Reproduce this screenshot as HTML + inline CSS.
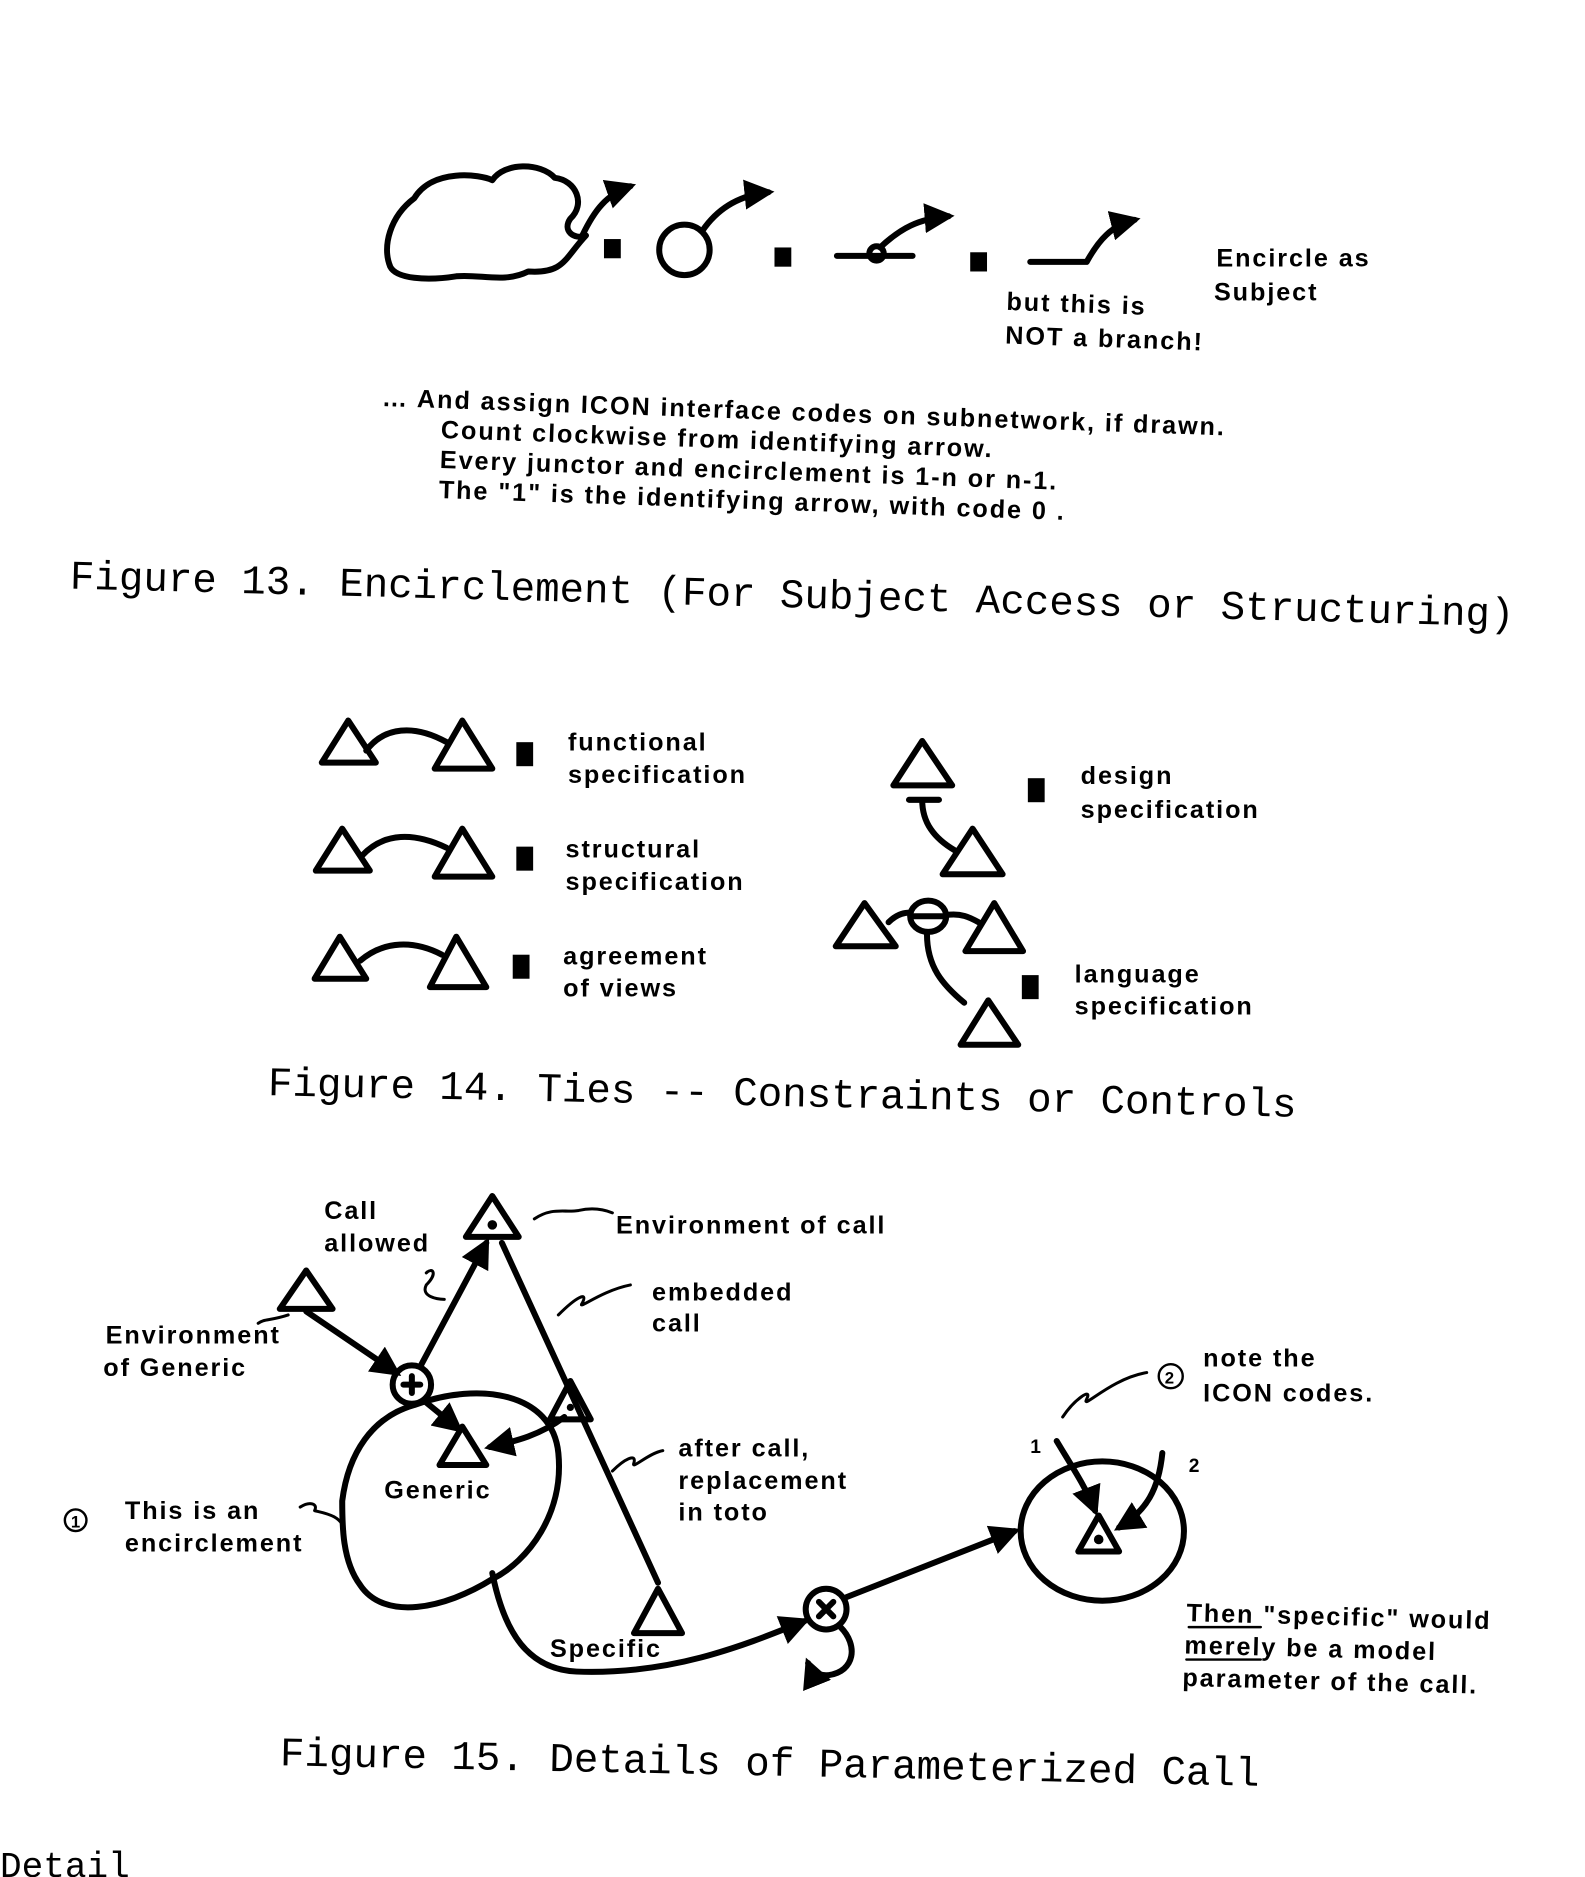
<!DOCTYPE html>
<html><head><meta charset="utf-8"><style>
html,body{margin:0;padding:0;background:#fff;}
svg{display:block}
.t{font-family:"Liberation Sans",sans-serif;font-weight:bold;font-size:21px;fill:#000;letter-spacing:1.6px}
.c{font-family:"Liberation Mono","Liberation Serif",serif;font-size:34px;fill:#000}
</style></head><body>
<svg width="1585" height="1877" viewBox="0 0 1320 1563" xmlns="http://www.w3.org/2000/svg">
<defs><marker id="a" viewBox="0 0 10 10" refX="8" refY="5" markerWidth="5" markerHeight="5" orient="auto"><path d="M0,0 L10,5 L0,10z" fill="#000"/></marker></defs>
<g fill="none" stroke="#000" stroke-width="5" stroke-linecap="round" stroke-linejoin="round">
<!-- Fig 13 -->
<path d="M345,165 C360,140 400,145 410,150 C420,135 450,135 462,148 C480,150 488,170 475,182 C468,192 478,200 488,196 C470,215 470,228 440,226 C420,236 400,228 380,230 C355,234 330,232 325,222 C318,205 325,180 345,165Z"/>
<path d="M485,196 C495,175 505,162 525,155" marker-end="url(#a)"/>
<circle cx="570" cy="208" r="21"/>
<path d="M585,192 C600,170 620,162 640,160" marker-end="url(#a)"/>
<path d="M697,213 L760,213"/><circle cx="730" cy="211" r="6"/>
<path d="M733,206 C750,190 765,182 790,180" marker-end="url(#a)"/>
<path d="M858,218 L905,218 C915,200 925,188 945,183" marker-end="url(#a)"/>
<!-- Fig 14 left -->
<polygon points="290,600 268,635 313,635"/><polygon points="385,600 362,640 410,640"/>
<path d="M305,625 C320,605 345,603 372,618"/>
<polygon points="285,690 263,725 308,725"/><polygon points="385,690 362,730 410,730"/>
<path d="M302,712 C320,693 345,693 372,706"/>
<polygon points="283,780 262,815 305,815"/><polygon points="380,780 358,822 405,822"/>
<path d="M300,800 C320,783 345,783 368,795"/>
<!-- Fig 14 right -->
<polygon points="768,617 744,654 793,654"/>
<path d="M757,666 L782,666 M768,666 C768,685 778,698 795,708"/>
<polygon points="810,690 785,728 835,728"/>
<polygon points="720,752 696,788 746,788"/>
<polygon points="828,752 804,792 852,792"/>
<polygon points="823,833 800,870 848,870"/>
<ellipse cx="773" cy="763" rx="15" ry="13"/>
<path d="M740,768 C748,760 755,760 758,760 M788,762 C800,760 808,764 815,768 M760,763 L786,763 M772,778 C772,805 785,820 803,835"/>
<!-- Fig 15 -->
<polygon points="410,996 388,1030 432,1030"/>
<polygon points="255,1058 233,1090 277,1090"/>
<polygon points="385,1188 366,1220 405,1220"/>
<polygon points="475,1150 458,1182 492,1182"/>
<polygon points="548,1323 528,1360 568,1360"/>
<circle cx="343" cy="1153" r="16"/>
<path d="M336,1153 L350,1153 M343,1146 L343,1160"/>
<path d="M255,1092 L330,1143" marker-end="url(#a)"/>
<path d="M350,1138 L405,1035" marker-end="url(#a)"/>
<path d="M418,1035 L548,1318"/>
<path d="M355,1168 L382,1190" marker-end="url(#a)"/>
<path d="M470,1180 C450,1195 430,1200 408,1205" marker-end="url(#a)"/>
<path d="M345,1170 C400,1150 460,1160 465,1210 C470,1260 440,1300 410,1315 C370,1340 320,1350 300,1320 C285,1300 285,1270 285,1250 C290,1210 310,1180 345,1170Z"/>
<path d="M410,1310 C420,1360 440,1390 480,1392 C560,1395 620,1370 670,1350" marker-end="url(#a)"/>
<circle cx="688" cy="1340" r="17"/>
<path d="M682,1334 L694,1346 M694,1334 L682,1346"/>
<path d="M700,1355 C715,1370 712,1392 690,1395 C680,1396 675,1390 673,1385" marker-end="url(#a)"/>
<path d="M705,1330 L845,1275" marker-end="url(#a)"/>
<ellipse cx="918" cy="1275" rx="68" ry="58"/>
<polygon points="915,1262 898,1292 932,1292"/>
<path d="M880,1200 C895,1225 905,1240 912,1258" marker-end="url(#a)"/>
<path d="M968,1210 C965,1240 955,1258 932,1272" marker-end="url(#a)"/>
<path d="M240,1095 C225,1100 220,1098 215,1102" stroke-width="2.5"/>
<path d="M445,1015 C460,1005 470,1010 482,1008 C495,1005 505,1008 510,1010" stroke-width="2.5"/>
<path d="M355,1060 C360,1055 365,1060 355,1070 C350,1080 365,1082 370,1082" stroke-width="2.5"/>
<path d="M465,1095 C480,1080 490,1075 485,1085 C480,1092 500,1075 525,1070" stroke-width="2.5"/>
<path d="M510,1225 C520,1215 530,1210 528,1218 C525,1225 540,1210 552,1208" stroke-width="2.5"/>
<path d="M250,1255 C258,1250 265,1252 262,1258 C270,1260 285,1262 287,1275" stroke-width="2.5"/>
<path d="M885,1180 C895,1165 910,1155 905,1165 C900,1175 925,1148 955,1143" stroke-width="2.5"/>
<path d="M990,1355 L1050,1355 M988,1382 L1050,1382" stroke-width="2"/>
</g>
<g fill="#000">
<rect x="503" y="199" width="14" height="16"/><rect x="645" y="206" width="14" height="16"/><rect x="808" y="210" width="14" height="16"/>
<rect x="430" y="618" width="14" height="20"/><rect x="430" y="705" width="14" height="20"/><rect x="427" y="795" width="14" height="20"/>
<rect x="856" y="648" width="14" height="20"/><rect x="851" y="812" width="14" height="20"/>
<circle cx="410" cy="1020" r="4"/><circle cx="915" cy="1282" r="4"/><circle cx="475" cy="1172" r="3"/>
</g>
<text class="t" x="1013" y="222">Encircle as</text>
<text class="t" x="1011" y="250">Subject</text>
<g transform="rotate(2 838 258)"><text class="t" x="838" y="258">but this is</text><text class="t" x="838" y="286">NOT a branch!</text></g>
<g transform="rotate(2 318 335)">
<text class="t" x="318" y="338">… And assign ICON interface codes on subnetwork, if drawn.</text>
<text class="t" x="368" y="363">Count clockwise from identifying arrow.</text>
<text class="t" x="368" y="388">Every junctor and encirclement is 1-n or n-1.</text>
<text class="t" x="368" y="413">The "1" is the identifying arrow, with code 0 .</text>
</g>
<text class="c" x="58" y="490" transform="rotate(1.5 58 490)">Figure 13.  Encirclement (For Subject Access or Structuring)</text>
<text class="t" x="473" y="625">functional</text><text class="t" x="473" y="652">specification</text>
<text class="t" x="471" y="714">structural</text><text class="t" x="471" y="741">specification</text>
<text class="t" x="469" y="803">agreement</text><text class="t" x="469" y="830">of views</text>
<text class="t" x="900" y="653">design</text><text class="t" x="900" y="681">specification</text>
<text class="t" x="895" y="818">language</text><text class="t" x="895" y="845">specification</text>
<text class="c" x="223" y="912" transform="rotate(1.2 223 912)">Figure 14.  Ties -- Constraints or Controls</text>
<text class="t" x="270" y="1015">Call</text><text class="t" x="270" y="1042">allowed</text>
<text class="t" x="513" y="1027">Environment of call</text>
<text class="t" x="543" y="1083">embedded</text><text class="t" x="543" y="1109">call</text>
<text class="t" x="88" y="1119">Environment</text><text class="t" x="86" y="1146">of Generic</text>
<text class="t" x="320" y="1248">Generic</text>
<text class="t" x="104" y="1265">This is an</text><text class="t" x="104" y="1292">encirclement</text>
<circle cx="63" cy="1266" r="9" fill="none" stroke="#000" stroke-width="2"/><text x="59" y="1272" style="font:bold 14px 'Liberation Sans'">1</text>
<text class="t" x="565" y="1213">after call,</text><text class="t" x="565" y="1240">replacement</text><text class="t" x="565" y="1266">in toto</text>
<text class="t" x="458" y="1380">Specific</text>
<circle cx="975" cy="1146" r="10" fill="none" stroke="#000" stroke-width="2"/><text x="970" y="1152" style="font:bold 14px 'Liberation Sans'">2</text>
<text class="t" x="1002" y="1138">note the</text><text class="t" x="1002" y="1167">ICON codes.</text>
<text class="t" x="858" y="1210" style="font-size:16px">1</text><text class="t" x="990" y="1226" style="font-size:16px">2</text>
<g transform="rotate(1.5 988 1350)"><text class="t" x="988" y="1350">Then "specific" would</text><text class="t" x="987" y="1377">merely be a model</text><text class="t" x="986" y="1404">parameter of the call.</text></g>
<text class="c" x="233" y="1470" transform="rotate(1.2 233 1470)">Figure 15.  Details of Parameterized Call</text>
<text class="c" x="0" y="1563" style="font-size:30px">Detail</text>
</svg>
</body></html>
